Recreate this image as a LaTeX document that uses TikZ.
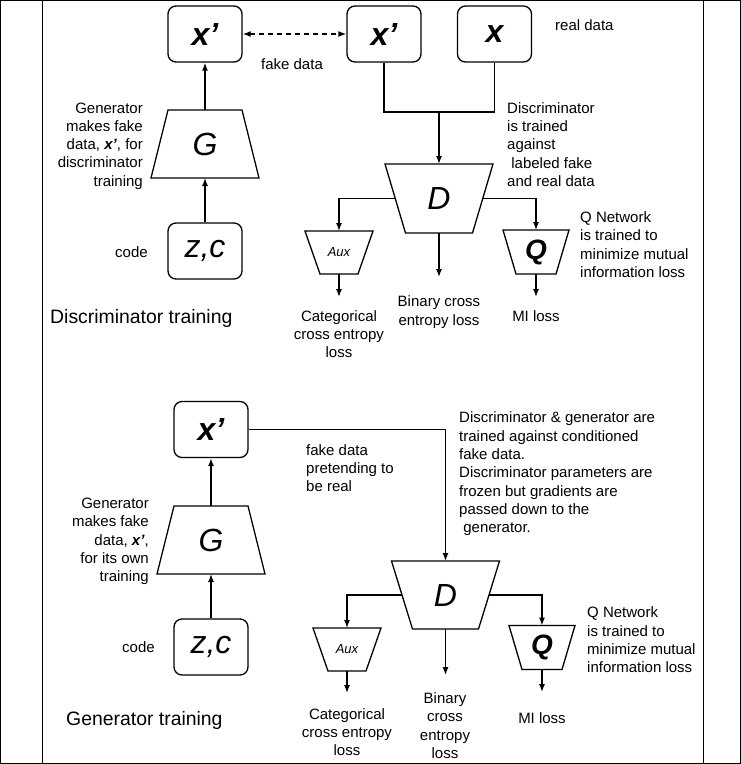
\documentclass[tikz,border=0pt]{standalone}
\usepackage{fontspec}
\setmainfont{Liberation Sans}
\usetikzlibrary{arrows.meta}
% #1 name, #2 x, #3 y (centre), #4 top width, #5 bottom width, #6 height, #7 label style, #8 label
\newcommand\mytrap[8]{%
  \node[#7,inner sep=0pt] (#1) at (#2,#3) {#8};
  \coordinate (#1-tl) at ({#2-#4/2},{#3-#6/2});
  \coordinate (#1-tr) at ({#2+#4/2},{#3-#6/2});
  \coordinate (#1-br) at ({#2+#5/2},{#3+#6/2});
  \coordinate (#1-bl) at ({#2-#5/2},{#3+#6/2});
  \coordinate (#1-n) at (#2,{#3-#6/2});
  \coordinate (#1-s) at (#2,{#3+#6/2});
  \coordinate (#1-w) at ({#2-(#4+#5)/4},#3);
  \coordinate (#1-e) at ({#2+(#4+#5)/4},#3);
  \draw[shapeline] (#1-tl) -- (#1-tr) -- (#1-br) -- (#1-bl) -- cycle;
}
\begin{document}
\begin{tikzpicture}[x=1pt,y=-1pt,
  frame/.style={line width=1pt},
  wire/.style={line width=1.3pt},
  shapeline/.style={line width=1.3pt,line join=miter},
  arr/.style={wire,-{Latex[length=8pt,width=6pt]}},
  dbl/.style={wire,dashed,dash pattern=on 5pt off 4pt,{Latex[length=8pt,width=6pt]}-{Latex[length=8pt,width=6pt]}},
  databox/.style={draw,line width=1.3pt,rounded corners=8pt,minimum width=74pt,minimum height=56pt,inner sep=0pt},
  txt/.style={inner sep=0pt,font=\fontsize{15}{18.3}\selectfont},
  title/.style={inner sep=0pt,font=\fontsize{19.4}{23}\selectfont},
  big/.style={font=\fontsize{32}{32}\selectfont\bfseries\itshape},
  bigit/.style={font=\fontsize{32}{32}\selectfont\itshape},
  auxlbl/.style={font=\fontsize{13}{13}\selectfont\itshape},
  qlbl/.style={font=\fontsize{28}{28}\selectfont\bfseries\itshape},
]
\useasboundingbox (0,0) rectangle (741,764);
% outer frame
\draw[frame] (0.5,0.5) rectangle (740.5,763.5);
\draw[frame] (42,0.5) -- (42,763.5);
\draw[frame] (703,0.5) -- (703,763.5);

% ---------- discriminator training ----------
\node[databox,big] (xa) at (205,34) {x’};
\node[databox,big] (xb) at (384,34) {x’};
\node[databox,big] (xr) at (494.5,34) {x};
\draw[dbl] (xa.east) -- (xb.west);
\node[txt] (fd) at (292,64) {fake data};
\node[txt,anchor=west] (rd) at (555,25) {real data};

\mytrap{ga}{205}{144}{74}{108}{68}{bigit}{G}
\node[databox,bigit] (za) at (205,251) {z,c};
\draw[arr] (za.north) -- (ga-s);
\draw[arr] (ga-n) -- (xa.south);
\node[txt,anchor=west] (codea) at (115,252) {code};
\node[txt,align=right,anchor=east] (gla) at (143,146)
  {Generator\\makes fake\\data, \textbf{\textit{x’}}, for\\discriminator\\training};
\node[title,anchor=west] (tta) at (50,318) {Discriminator training};

\mytrap{da}{439}{198.5}{108}{67}{69}{bigit}{D}
\coordinate (ja) at (439,112);
\draw[wire] (xb.south) |- (xr.south |- ja) -- (xr.south);
\draw[arr] (ja) -- (da-n);
\node[txt,align=left,anchor=west] (dla) at (507,144.5)
  {Discriminator\\is trained\\against\\\ labeled fake\\and real data};

\mytrap{aa}{339}{252.5}{68}{38}{43}{auxlbl}{Aux}
\mytrap{qa}{536}{252}{66}{40}{44}{qlbl}{Q}
\draw[arr] (da-w) -| (aa-n);
\draw[arr] (da-e) -| (qa-n);
\coordinate (aoa) at (339,297);
\coordinate (boa) at (439,277);
\coordinate (qoa) at (536,297);
\draw[arr] (aa-s) -- (aoa);
\draw[arr] (da-s) -- (boa);
\draw[arr] (qa-s) -- (qoa);
\node[txt,align=center] (cla) at (339,334) {Categorical\\cross entropy\\loss};
\node[txt,align=center] (bla) at (439,312) {Binary cross\\entropy loss};
\node[txt] (mla) at (536,316) {MI loss};
\node[txt,align=left,anchor=west] (qla) at (580,244.5)
  {Q Network\\is trained to\\minimize mutual\\information loss};

% ---------- generator training ----------
\node[databox,big] (xc) at (211,429.5) {x’};
\mytrap{gb}{211}{540}{74}{108}{68}{bigit}{G}
\node[databox,bigit] (zb) at (211,647) {z,c};
\draw[arr] (zb.north) -- (gb-s);
\draw[arr] (gb-n) -- (xc.south);
\node[txt,anchor=west] (codeb) at (122,647) {code};
\node[txt,align=right,anchor=east] (glb) at (149,541.5)
  {Generator\\makes fake\\data, \textbf{\textit{x’}},\\for its own\\training};
\node[title,anchor=west] (ttb) at (66,720) {Generator training};

\mytrap{db}{445.5}{595}{108}{66}{68}{bigit}{D}
\draw[arr] (xc.east) -| (db-n);
\node[txt,align=left,anchor=west] (fdb) at (306,468)
  {fake data\\pretending to\\be real};
\node[txt,align=left,anchor=west] (dlb) at (459,474)
  {Discriminator \&{} generator are\\trained against conditioned\\fake data.\\Discriminator parameters are\\frozen but gradients are\\passed down to the\\\ generator.};

\mytrap{ab}{347}{649.5}{68}{38}{43}{auxlbl}{Aux}
\mytrap{qb}{542}{647.5}{66}{40}{44}{qlbl}{Q}
\draw[arr] (db-w) -| (ab-n);
\draw[arr] (db-e) -| (qb-n);
\coordinate (aob) at (347,693);
\coordinate (bob) at (445.5,675);
\coordinate (qob) at (542,692);
\draw[arr] (ab-s) -- (aob);
\draw[arr] (db-s) -- (bob);
\draw[arr] (qb-s) -- (qob);
\node[txt,align=center] (clb) at (347,732) {Categorical\\cross entropy\\loss};
\node[txt,align=center] (blb) at (445,725.5) {Binary\\cross\\entropy\\loss};
\node[txt] (mlb) at (542,718) {MI loss};
\node[txt,align=left,anchor=west] (qlb) at (587,640)
  {Q Network\\is trained to\\minimize mutual\\information loss};
\end{tikzpicture}
\end{document}
